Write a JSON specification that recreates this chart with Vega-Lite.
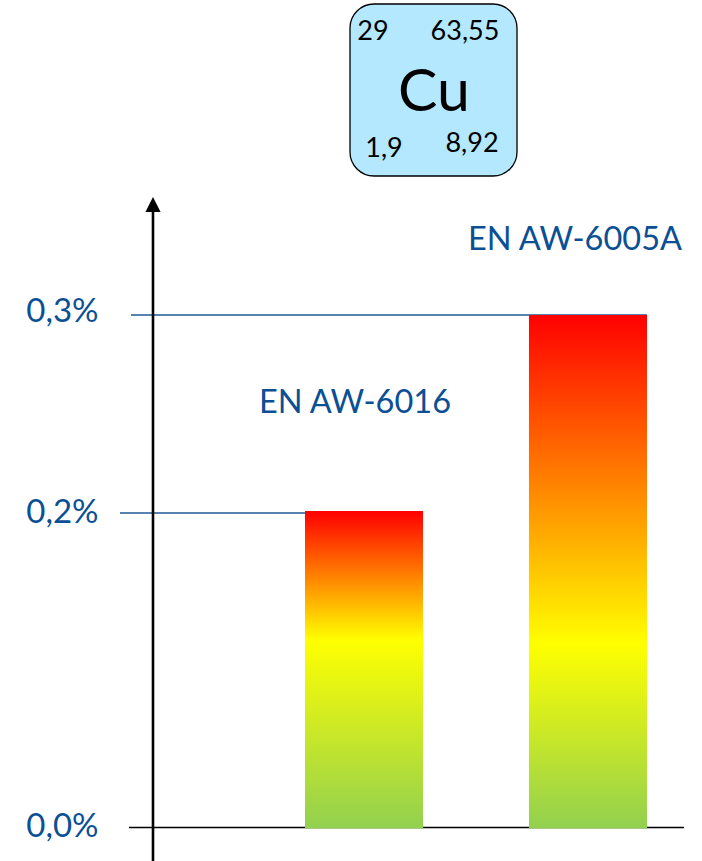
{
"$schema":"https://vega.github.io/schema/vega-lite/v6.json",
"width":592,"height":861,"autosize":"none","padding":{"left":110,"top":0,"right":0,"bottom":0},
"background":"white",
"config":{"view":{"stroke":null},"text":{"font":"Lato"},"axis":{"labelFont":"Lato"}},
"datasets":{
"bars":[{"alloy":"EN AW-6016","cu":0.2},{"alloy":"EN AW-6005A","cu":0.3}],
"ticks":[{"level":0},{"level":0.2},{"level":0.3}],
"tile":[{"symbol":"Cu","number":"29","mass":"63,55","en":"1,9","density":"8,92"}]
},
"encoding":{},
"layer":[
{"data":{"name":"ticks"},"transform":[{"filter":"datum.level==0.3"}],"mark":{"type":"rule","color":"#1f5a96","strokeWidth":1.3},
 "encoding":{"y":{"field":"level","type":"quantitative","scale":{"domain":[0,0.2,0.3],"range":[828.5,511,315]},"axis":{"values":[0,0.2,0.3],"title":null,"domain":false,"ticks":false,"grid":false,"labelFontSize":33,"labelColor":"#0b4f94","labelPadding":12,"labelExpr":"replace(format(datum.value,'.1f'),'.',',')+'%'","labelOffset":{"expr":"datum.value==0.3?-4:datum.value==0.2?1:-2"}}},"x":{"value":21},"x2":{"value":537}}},
{"data":{"name":"ticks"},"transform":[{"filter":"datum.level==0.2"}],"mark":{"type":"rule","color":"#1f5a96","strokeWidth":1.3,"yOffset":2},
 "encoding":{"y":{"field":"level","type":"quantitative"},"x":{"value":10},"x2":{"value":195}}},
{"data":{"name":"ticks"},"transform":[{"filter":"datum.level==0"}],"mark":{"type":"rule","color":"#000000","strokeWidth":1.5,"yOffset":-1},
 "encoding":{"y":{"field":"level","type":"quantitative"},"x":{"value":19},"x2":{"value":574}}},
{"data":{"name":"bars"},"transform":[{"filter":"datum.cu==0.2"}],
 "mark":{"type":"bar","color":{"gradient":"linear","x1":0,"y1":1,"x2":0,"y2":0,"stops":[{"offset":0,"color":"#92d050"},{"offset":0.594,"color":"#ffff00"},{"offset":1,"color":"#ff0000"}]}},
 "encoding":{"x":{"field":"alloy","type":"nominal","sort":null,"scale":{"type":"band","domain":["EN AW-6016","EN AW-6005A"],"range":[195,537],"paddingInner":0.473,"paddingOuter":0},"axis":null},"y":{"field":"cu","type":"quantitative"}}},
{"data":{"name":"bars"},"transform":[{"filter":"datum.cu==0.3"}],
 "mark":{"type":"bar","color":{"gradient":"linear","x1":0,"y1":1,"x2":0,"y2":0,"stops":[{"offset":0,"color":"#92d050"},{"offset":0.36,"color":"#ffff00"},{"offset":1,"color":"#ff0000"}]}},
 "encoding":{"x":{"field":"alloy","type":"nominal"},"y":{"field":"cu","type":"quantitative"}}},
{"data":{"name":"bars"},"transform":[{"filter":"datum.cu==0.2"}],"mark":{"type":"text","fontSize":32.5,"color":"#0b4f94","dx":-9,"align":"center","baseline":"middle"},
 "encoding":{"x":{"field":"alloy","type":"nominal"},"y":{"datum":0.255},"text":{"field":"alloy"}}},
{"data":{"name":"bars"},"transform":[{"filter":"datum.cu==0.3"}],"mark":{"type":"text","fontSize":32.5,"color":"#0b4f94","dx":-13,"align":"center","baseline":"middle"},
 "encoding":{"x":{"field":"alloy","type":"nominal"},"y":{"datum":0.3385},"text":{"field":"alloy"}}},
{"data":{"values":[{}]},"mark":{"type":"rule","color":"#000000","strokeWidth":2.6},"encoding":{"x":{"value":43},"y":{"value":208},"y2":{"value":861}}},
{"data":{"values":[{}]},"mark":{"type":"point","shape":"M-1,1L1,1L0,-1Z","filled":true,"color":"#000000","opacity":1,"size":230},"encoding":{"x":{"value":43},"y":{"value":204.5}}},
{"data":{"name":"tile"},"mark":{"type":"rect","fill":"#b3e8ff","stroke":"#000000","strokeWidth":1.3,"cornerRadius":24},"encoding":{"x":{"value":240},"x2":{"value":407},"y":{"value":4},"y2":{"value":176}}},
{"data":{"name":"tile"},"mark":{"type":"text","fontSize":59,"color":"#000000","align":"center","baseline":"middle"},"encoding":{"x":{"value":324},"y":{"value":93},"text":{"field":"symbol"}}},
{"data":{"name":"tile"},"mark":{"type":"text","fontSize":27,"color":"#000000","align":"center","baseline":"middle"},"encoding":{"x":{"value":263},"y":{"value":32},"text":{"field":"number"}}},
{"data":{"name":"tile"},"mark":{"type":"text","fontSize":27,"color":"#000000","align":"center","baseline":"middle"},"encoding":{"x":{"value":355},"y":{"value":32},"text":{"field":"mass"}}},
{"data":{"name":"tile"},"mark":{"type":"text","fontSize":27,"color":"#000000","align":"center","baseline":"middle"},"encoding":{"x":{"value":274},"y":{"value":149},"text":{"field":"en"}}},
{"data":{"name":"tile"},"mark":{"type":"text","fontSize":27,"color":"#000000","align":"center","baseline":"middle"},"encoding":{"x":{"value":362},"y":{"value":144},"text":{"field":"density"}}}
]
}
